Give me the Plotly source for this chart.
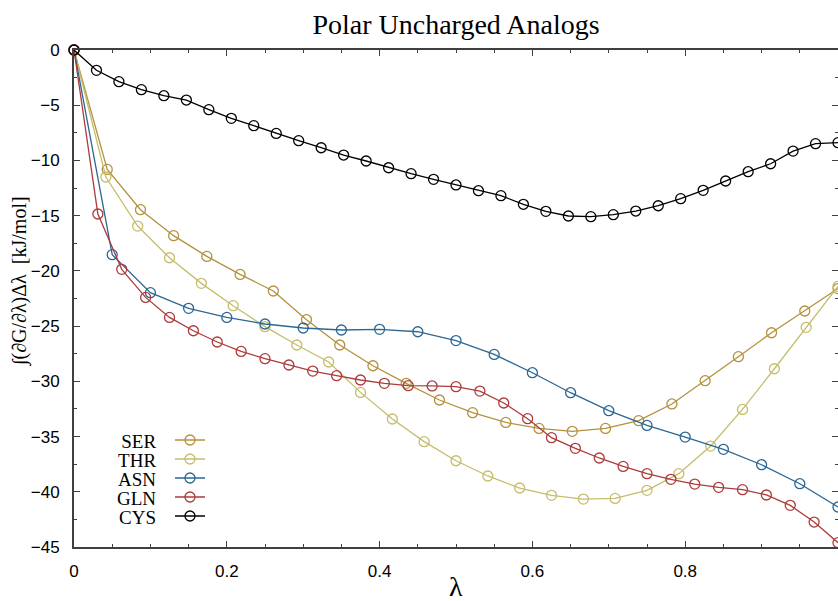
import plotly.graph_objects as go

# ---- data ----
SERIES_NAMES = ["SER", "THR", "ASN", "GLN", "CYS"]
SERIES_COLORS = ["#b4913e", "#c6bd6c", "#2b6794", "#ad3b3b", "#000000"]

SER_X = [0, .0435, .087, .1304, .1739, .2174, .2609, .3043, .3478, .3913, .4348, .4783,
         .5217, .5652, .6087, .6522, .6957, .7391, .7826, .8261, .8696, .913, .9565, 1.0]
SER_Y = [0, -10.81, -14.46, -16.81, -18.69, -20.32, -21.82, -24.42, -26.71, -28.59, -30.18,
         -31.69, -32.84, -33.72, -34.26, -34.53, -34.26, -33.56, -32.05, -29.94, -27.77,
         -25.60, -23.63, -21.6]

THR_X = [0, .0417, .0833, .125, .1667, .2083, .25, .2917, .3333, .375, .4167, .4583, .5,
         .5417, .5833, .625, .6667, .7083, .75, .7917, .8333, .875, .9167, .9583, 1.0]
THR_Y = [0, -11.50, -15.94, -18.81, -21.13, -23.15, -25.05, -26.71, -28.25, -31.00, -33.41,
         -35.46, -37.19, -38.57, -39.66, -40.32, -40.66, -40.60, -39.87, -38.36, -35.86,
         -32.54, -28.86, -25.11, -21.4]

ASN_X = [0, .05, .1, .15, .2, .25, .3, .35, .4, .45, .5, .55, .6, .65, .7, .75, .8, .85,
         .9, .95, 1.0]
ASN_Y = [0, -18.53, -21.97, -23.39, -24.21, -24.81, -25.17, -25.35, -25.29, -25.51, -26.31,
         -27.56, -29.22, -31.03, -32.66, -33.99, -35.05, -36.16, -37.55, -39.27, -41.38]

GLN_X = [0, .03125, .0625, .09375, .125, .15625, .1875, .21875, .25, .28125, .3125, .34375,
         .375, .40625, .4375, .46875, .5, .53125, .5625, .59375, .625, .65625, .6875, .71875,
         .75, .78125, .8125, .84375, .875, .90625, .9375, .96875, 1.0]
GLN_Y = [0, -14.85, -19.86, -22.40, -24.21, -25.42, -26.44, -27.29, -27.95, -28.52, -29.07,
         -29.49, -29.88, -30.18, -30.39, -30.42, -30.48, -30.88, -31.96, -33.38, -35.10,
         -36.07, -36.94, -37.70, -38.36, -38.87, -39.30, -39.60, -39.81, -40.29, -41.23,
         -42.74, -44.61]

CYS_X = [0, .0294, .0588, .0882, .1176, .1471, .1765, .2059, .2353, .2647, .2941, .3235,
         .3529, .3824, .4118, .4412, .4706, .5, .5294, .5588, .5882, .6176, .6471, .6765,
         .7059, .7353, .7647, .7941, .8235, .8529, .8824, .9118, .9412, .9706, 1.0]
CYS_Y = [0, -1.84, -2.87, -3.59, -4.14, -4.53, -5.40, -6.19, -6.85, -7.55, -8.21, -8.85,
         -9.51, -10.05, -10.66, -11.20, -11.71, -12.22, -12.74, -13.19, -13.97, -14.61,
         -15.03, -15.09, -14.91, -14.58, -14.10, -13.46, -12.71, -11.86, -11.02, -10.30,
         -9.15, -8.48, -8.39]

X_TICKS = [0, 0.2, 0.4, 0.6, 0.8]
X_TICK_TEXT = ["0", "0.2", "0.4", "0.6", "0.8"]
Y_TICKS = [0, -5, -10, -15, -20, -25, -30, -35, -40, -45]

TITLE = "Polar Uncharged Analogs"
X_LABEL = "λ"
Y_LABEL = "∫(∂G/∂λ)Δλ  [kJ/mol]"

# ---- figure ----
W, H = 838, 601
ML, MR, MT, MB = 74, 0, 50, 54
PW, PH = W - ML - MR, H - MT - MB

xs = [SER_X, THR_X, ASN_X, GLN_X, CYS_X]
ys = [SER_Y, THR_Y, ASN_Y, GLN_Y, CYS_Y]

fig = go.Figure()
for name, color, x, y in zip(SERIES_NAMES, SERIES_COLORS, xs, ys):
    fig.add_trace(go.Scatter(
        x=x, y=y, name=name, mode="lines+markers",
        line=dict(color=color, width=1.3),
        marker=dict(symbol="circle-open", size=10, color=color, line=dict(width=1.3)),
        cliponaxis=False,
    ))

serif = "Liberation Serif, Times New Roman, serif"
sans = "Liberation Sans, Arial, sans-serif"
axcol = "#404040"

def px_x(p):
    return (p - ML) / PW

def px_y(p):
    return (H - MB - p) / PH

# legend: native legend draws the samples; one right-aligned multi-line label block to the left
row_h = 19                      # plotly's minimum legend row height
base_size = row_h / 1.3         # line spacing of the label block = row_h
lab_px = 19                     # visible glyph size of the labels
leg_font = 12                   # keeps legend rows at the 19 px minimum
block_mid = 478
leg_top = block_mid - 2 * row_h - row_h / 2 - 5

label_block = "<br>".join(
    f"<span style='font-size:{lab_px}px'>{n}</span>" for n in SERIES_NAMES)

annotations = [dict(
    text=label_block, xref="paper", yref="paper",
    x=px_x(158), y=px_y(block_mid + 1), xanchor="right", yanchor="middle", align="right",
    showarrow=False, font=dict(family=serif, size=base_size, color="#000000"),
)]
annotations.append(dict(
    text=Y_LABEL, xref="paper", yref="paper", x=px_x(20), y=px_y(282),
    xanchor="center", yanchor="middle", textangle=-90, showarrow=False,
    font=dict(family=serif, size=20, color="#000000"),
))
annotations.append(dict(
    text=X_LABEL, xref="paper", yref="paper", x=0.5, y=px_y(586),
    xanchor="center", yanchor="middle", showarrow=False,
    font=dict(family=serif, size=28, color="#000000"),
))

fig.update_layout(
    width=W, height=H,
    margin=dict(l=ML, r=MR, t=MT, b=MB, autoexpand=False),
    paper_bgcolor="white", plot_bgcolor="white",
    title=dict(text=TITLE, x=0.5, xref="paper", y=1 - 24 / H,
               yref="container", xanchor="center", yanchor="middle",
               font=dict(family=serif, size=28, color="#000000")),
    showlegend=True,
    legend=dict(
        x=px_x(170), y=px_y(leg_top), xanchor="left", yanchor="top",
        bgcolor="rgba(0,0,0,0)", borderwidth=0,
        font=dict(family=serif, size=leg_font, color="rgba(0,0,0,0)"),
        tracegroupgap=0,
    ),
    annotations=annotations,
    font=dict(family=sans, color="#000000"),
)

fig.update_xaxes(
    range=[0, 1], tickmode="array", tickvals=X_TICKS, ticktext=X_TICK_TEXT,
    showgrid=False, zeroline=False, showline=True, linecolor=axcol, linewidth=2,
    mirror="ticks", ticks="inside", ticklen=6, tickwidth=1.2, tickcolor=axcol,
    minor=dict(dtick=0.05, ticks="inside", ticklen=3, tickwidth=1.2, tickcolor=axcol, showgrid=False),
    tickfont=dict(family=sans, size=17, color="#000000"), ticklabelstandoff=8,
    automargin=False,
)
fig.update_yaxes(
    range=[-45, 0], tickmode="array", tickvals=Y_TICKS,
    showgrid=False, zeroline=False, showline=True, linecolor=axcol, linewidth=2,
    mirror="ticks", ticks="inside", ticklen=6, tickwidth=1.2, tickcolor=axcol,
    minor=dict(dtick=2.5, ticks="inside", ticklen=3, tickwidth=1.2, tickcolor=axcol, showgrid=False),
    tickfont=dict(family=sans, size=17, color="#000000"), ticklabelstandoff=9,
    automargin=False,
)

fig.write_html("out.html")
